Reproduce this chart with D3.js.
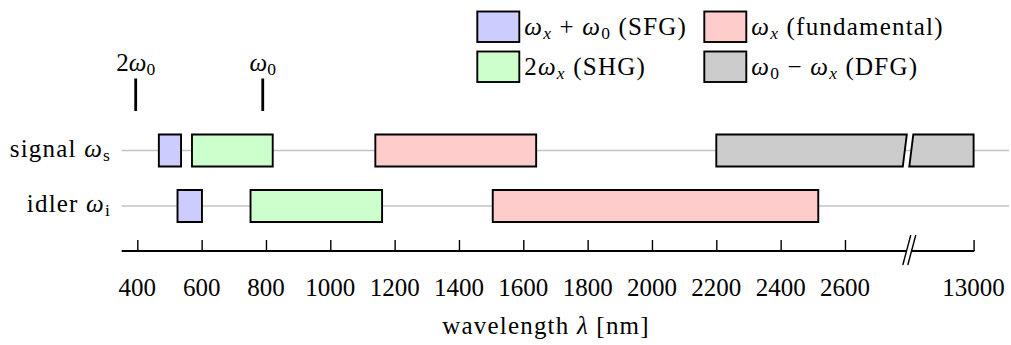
<!DOCTYPE html>
<html lang='en'>
<head>
  <meta charset='UTF-8'>
  <title>Signal and idler wavelengths</title>
  <script src='https://cdn.jsdelivr.net/npm/d3@7'></script>
  <style>
    body { margin: 0; background: #fff; }
    text { font-family: 'Liberation Serif', 'Times New Roman', serif; fill: #000; white-space: pre; }
    text.words { letter-spacing: 1.2px; }
  </style>
</head>
<body>
<svg width='1011' height='345'></svg>
<script>
  // wavelength bands in nm, one entry per process
  const processes = ['SFG', 'SHG', 'fundamental', 'DFG']
  const processColors = ['#ccccff', '#ccffcc', '#ffcccc', '#cccccc']

  const signalProcess = [0, 1, 2, 3]
  const signalStart = [467, 570, 1140, 2200]
  const signalEnd = [536, 821, 1640, 13000]

  const idlerProcess = [0, 1, 2]
  const idlerStart = [525, 752, 1505]
  const idlerEnd = [601, 1161, 2517]

  const tickValues = [400, 600, 800, 1000, 1200, 1400, 1600, 1800, 2000, 2200, 2400, 2600, 13000]
  const breakAt = 2800

  const markerValues = [395, 790]
  const markerLabels = [
    [['2', 'r'], ['ω', 'i'], ['0', 'sub']],
    [['ω', 'i'], ['0', 'sub']]
  ]

  const rowNames = ['signal', 'idler']
  const rowLabels = [
    [['signal ', 'r'], ['ω', 'i'], ['s', 'sub']],
    [['idler ', 'r'], ['ω', 'i'], ['i', 'sub']]
  ]

  const legendLabels = [
    [['ω', 'i'], ['x', 'subi'], [' + ', 'r'], ['ω', 'i'], ['0', 'sub'], [' (SFG)', 'r']],
    [['2', 'r'], ['ω', 'i'], ['x', 'subi'], [' (SHG)', 'r']],
    [['ω', 'i'], ['x', 'subi'], [' (fundamental)', 'r']],
    [['ω', 'i'], ['0', 'sub'], [' − ', 'r'], ['ω', 'i'], ['x', 'subi'], [' (DFG)', 'r']]
  ]

  const svg = d3.select('svg')
  const fs = 25

  // linear up to the break, then the last tick sits one step further on
  const x = d3.scaleLinear()
    .domain([400, breakAt, 13000])
    .range([137.3, 909.3, 973.6])

  const y = d3.scalePoint().domain(rowNames).range([150.5, 206])
  const barH = 32

  function richText(t, parts) {
    let shifted = false
    parts.forEach(p => {
      const sp = t.append('tspan').text(p[0])
      const isSub = p[1].startsWith('sub')
      if (p[1] === 'i' || p[1] === 'subi') sp.style('font-style', 'italic')
      if (isSub) sp.style('font-size', (fs * 0.7) + 'px')
      if (isSub && !shifted) { sp.attr('dy', 4); shifted = true }
      if (!isSub && shifted) { sp.attr('dy', -4); shifted = false }
    })
    return t
  }

  // row guide lines
  svg.append('g').selectAll('line')
    .data(rowNames).enter()
    .append('line')
      .attr('x1', 121.7).attr('x2', 1009)
      .attr('y1', d => y(d)).attr('y2', d => y(d))
      .attr('stroke', '#c4c4c4').attr('stroke-width', 1.5)

  svg.append('g').selectAll('text')
    .data(rowNames).enter()
    .append('text')
      .attr('class', 'words')
      .attr('x', 111).attr('y', d => y(d) + 6)
      .attr('text-anchor', 'end')
      .style('font-size', fs + 'px')
      .each(function (d, i) { richText(d3.select(this), rowLabels[i]) })

  // bars
  const bars = []
  signalStart.forEach((s, i) => bars.push({ row: 'signal', p: signalProcess[i], a: s, b: signalEnd[i] }))
  idlerStart.forEach((s, i) => bars.push({ row: 'idler', p: idlerProcess[i], a: s, b: idlerEnd[i] }))

  const xb = x(breakAt)
  const barG = svg.append('g')
  bars.forEach(d => {
    const top = y(d.row) - barH / 2, bot = y(d.row) + barH / 2
    const x0 = x(d.a), x1 = x(d.b)
    let shapes
    if (d.a < breakAt && d.b > breakAt) {
      shapes = [
        [[x0, top], [xb - 2.5, top], [xb - 6.5, bot], [x0, bot]],
        [[xb + 4, top], [x1, top], [x1, bot], [xb, bot]]
      ]
    } else {
      shapes = [[[x0, top], [x1, top], [x1, bot], [x0, bot]]]
    }
    shapes.forEach(pts => {
      barG.append('polygon')
        .attr('points', pts.map(q => q.join(',')).join(' '))
        .attr('fill', processColors[d.p])
        .attr('stroke', '#000').attr('stroke-width', 1.9)
        .attr('stroke-linejoin', 'miter')
    })
  })

  // markers for 2w0 and w0
  svg.append('g').selectAll('line')
    .data(markerValues).enter()
    .append('line')
      .attr('x1', d => x(d)).attr('x2', d => x(d))
      .attr('y1', 78.5).attr('y2', 111)
      .attr('stroke', '#000').attr('stroke-width', 2.8)

  svg.append('g').selectAll('text')
    .data(markerValues).enter()
    .append('text')
      .attr('x', d => x(d)).attr('y', 71)
      .attr('text-anchor', 'middle')
      .style('font-size', fs + 'px')
      .each(function (d, i) { richText(d3.select(this), markerLabels[i]) })

  // x axis
  const axisY = 251
  const axis = d3.axisTop(x).tickValues(tickValues).tickSize(11).tickFormat('')
  const ax = svg.append('g').attr('transform', `translate(0,${axisY})`).call(axis)
  ax.select('.domain').remove()
  ax.selectAll('.tick line').attr('stroke', '#000').attr('stroke-width', 1.4)
  ax.append('line')
    .attr('x1', 121.7).attr('x2', x(13000) + 0.7)
    .attr('stroke', '#000').attr('stroke-width', 2.2)

  // axis break
  const brk = svg.append('g')
  brk.append('polygon')
    .attr('points', `${xb - 6.5},265 ${xb + 1.5},235 ${xb + 6.5},235 ${xb - 1.5},265`)
    .attr('fill', '#fff')
  ;[-6.5, -1.5].forEach(o => {
    brk.append('line')
      .attr('x1', xb + o).attr('y1', 265)
      .attr('x2', xb + o + 8).attr('y2', 235)
      .attr('stroke', '#000').attr('stroke-width', 1.4)
  })

  svg.append('g').selectAll('text')
    .data(tickValues).enter()
    .append('text')
      .attr('x', d => x(d)).attr('y', 296)
      .attr('text-anchor', 'middle')
      .style('font-size', fs + 'px')
      .text(d => d)

  svg.append('text')
    .attr('class', 'words')
    .attr('x', 546).attr('y', 334)
    .attr('text-anchor', 'middle')
    .style('font-size', fs + 'px')
    .each(function () {
      richText(d3.select(this), [['wavelength ', 'r'], ['λ', 'i'], [' [nm]', 'r']])
    })

  // legend, two columns
  const legendOrder = [0, 1, 2, 3]
  const legX = [477.3, 704.3]
  const legY = [11.5, 51.5]
  const leg = svg.append('g').selectAll('g')
    .data(legendOrder).enter()
    .append('g')
      .attr('transform', (d, i) => `translate(${legX[Math.floor(i / 2)]},${legY[i % 2]})`)
  leg.append('rect')
    .attr('width', 42).attr('height', 30.5)
    .attr('fill', d => processColors[d])
    .attr('stroke', '#000').attr('stroke-width', 1.9)
  leg.append('text')
    .attr('class', 'words')
    .attr('x', 47).attr('y', 23)
    .style('font-size', fs + 'px')
    .each(function (d) { richText(d3.select(this), legendLabels[d]) })
</script>
</body>
</html>
